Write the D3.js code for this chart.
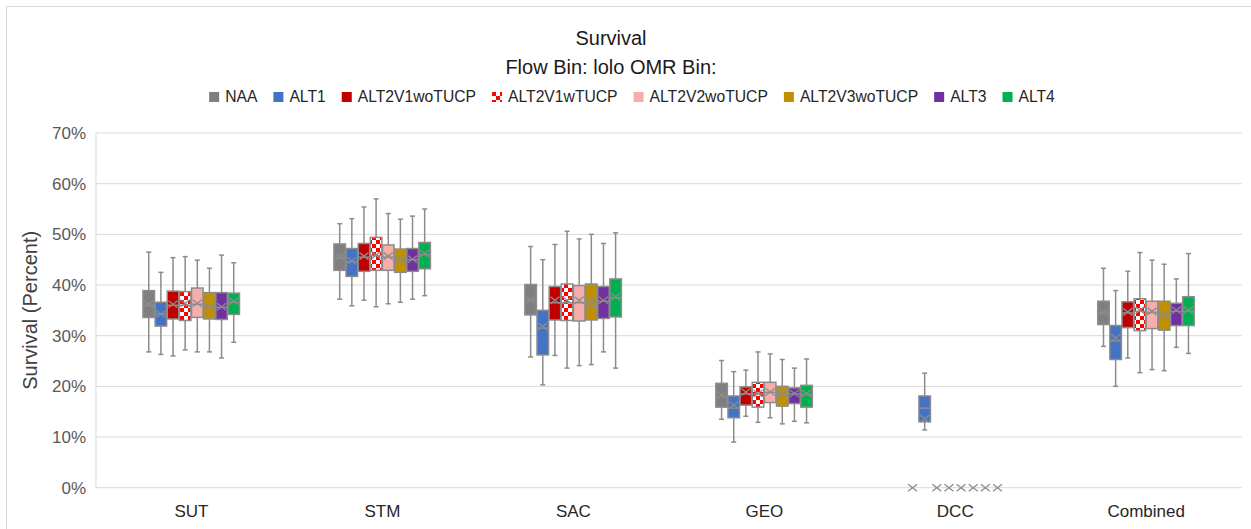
<!DOCTYPE html>
<html><head><meta charset="utf-8">
<script src="https://cdn.jsdelivr.net/npm/d3@7"></script>
<style>body{margin:0;background:#fff;} text{font-family:"Liberation Sans",Arial,sans-serif;}</style>
</head><body><svg id="c" width="1251" height="529"></svg>
<script>
const categories = ["SUT","STM","SAC","GEO","DCC","Combined"];
const seriesNames = ["NAA","ALT1","ALT2V1woTUCP","ALT2V1wTUCP","ALT2V2woTUCP","ALT2V3woTUCP","ALT3","ALT4"];
const seriesColors = ["#7f7f7f","#4472c4","#c00000","url(#checker)","#f7aeaa","#bf9000","#7030a0","#00b050"];
const yTicks = [0,10,20,30,40,50,60,70];
// per category: [min, q1, median, q3, max, mean] (percent)
const NAA = [[26.8,33.6,36.0,38.9,46.5,36.2],[37.2,42.9,45.4,48.1,52.1,45.6],[25.8,34.1,37.0,40.1,47.6,37.1],[13.5,15.9,18.0,20.6,25.1,18.3],[0,0,0,0,0,0],[27.9,32.2,34.5,36.8,43.3,34.6]];
const ALT1 = [[26.3,31.9,34.3,36.6,42.5,34.3],[35.9,41.7,44.6,47.2,53.1,44.8],[20.3,26.2,31.5,35.0,45.0,31.8],[9.0,13.8,15.7,18.1,22.9,16.3],[11.4,13.0,15.7,18.1,22.6,13.6],[20.0,25.3,29.0,32.0,38.9,29.6]];
const ALT2V1woTUCP = [[26.0,33.3,36.0,38.8,45.4,36.2],[37.0,42.7,45.5,48.2,55.4,45.7],[26.1,33.1,36.5,39.7,48.0,37.0],[14.1,16.3,18.5,19.9,23.2,18.9],[0,0,0,0,0,0],[25.6,31.6,34.5,36.7,42.7,34.7]];
const ALT2V1wTUCP = [[27.2,33.0,36.0,38.7,45.6,36.4],[35.7,42.9,45.8,49.4,57.0,45.9],[23.6,33.0,36.5,40.2,50.6,37.0],[12.9,15.9,18.5,20.8,26.8,18.6],[0,0,0,0,0,0],[22.7,31.0,34.8,37.3,46.4,35.0]];
const ALT2V2woTUCP = [[26.8,33.6,36.2,39.4,44.9,36.4],[36.3,42.9,45.5,47.9,54.1,45.7],[24.1,32.9,36.5,39.9,49.1,37.0],[13.8,16.8,18.8,20.8,26.4,18.9],[0,0,0,0,0,0],[23.3,31.4,34.6,36.8,44.9,34.8]];
const ALT2V3woTUCP = [[26.8,33.3,35.6,38.5,43.3,35.7],[36.6,42.5,45.0,47.1,53.0,45.1],[24.3,33.1,35.8,40.2,50.0,36.8],[12.6,16.1,18.4,20.0,25.3,18.6],[0,0,0,0,0,0],[23.1,31.1,34.0,36.8,44.1,34.1]];
const ALT3 = [[25.6,33.2,35.6,38.5,45.9,35.7],[37.2,42.7,45.0,47.2,53.6,45.1],[26.8,33.4,36.8,39.7,48.2,37.0],[13.1,16.6,18.5,19.7,23.6,18.6],[0,0,0,0,0,0],[27.7,32.0,34.8,36.4,41.2,35.0]];
const ALT4 = [[28.7,34.2,36.6,38.4,44.4,36.8],[37.9,43.2,46.0,48.4,55.0,46.2],[23.6,33.7,37.5,41.2,50.3,37.7],[12.8,15.9,18.4,20.2,25.4,18.6],[0,0,0,0,0,0],[26.5,32.0,34.8,37.7,46.2,35.0]];
const seriesData = [NAA,ALT1,ALT2V1woTUCP,ALT2V1wTUCP,ALT2V2woTUCP,ALT2V3woTUCP,ALT3,ALT4];

const svg = d3.select("#c");
const defs = svg.append("defs");
const pat = defs.append("pattern").attr("id","checker").attr("width",8).attr("height",8).attr("patternUnits","userSpaceOnUse");
pat.append("rect").attr("width",8).attr("height",8).attr("fill","#fff");
pat.append("rect").attr("width",4).attr("height",4).attr("fill","#ff0000");
pat.append("rect").attr("x",4).attr("y",4).attr("width",4).attr("height",4).attr("fill","#ff0000");

svg.append("rect").attr("x",6.5).attr("y",6.5).attr("width",1260).attr("height",540).attr("fill","#fff").attr("stroke","#d9d9d9");

const plotL = 96, plotR = 1241.7, plotT = 133, plotB = 487.7;
const x = d3.scaleBand().domain(categories).range([plotL, plotR]);
const xs = d3.scaleBand().domain(seriesNames).range([-48.5, 48]).paddingInner(0.05);
const y = d3.scaleLinear().domain([0,70]).range([plotB, plotT]);

// gridlines
svg.append("g").selectAll("line").data(yTicks).join("line")
  .attr("x1",plotL).attr("x2",plotR).attr("y1",d=>y(d)).attr("y2",d=>y(d))
  .attr("stroke","#d9d9d9").attr("stroke-width",1);
svg.append("line").attr("x1",plotL).attr("x2",plotL).attr("y1",plotT).attr("y2",plotB).attr("stroke","#d9d9d9");

// y tick labels
svg.append("g").selectAll("text").data(yTicks).join("text")
  .attr("x",86).attr("y",d=>y(d)).attr("dy","0.36em").attr("text-anchor","end")
  .attr("font-size",17).attr("fill","#595959").text(d=>d+"%");

// x labels
svg.append("g").selectAll("text").data(categories).join("text")
  .attr("x",d=>x(d)+x.bandwidth()/2).attr("y",517).attr("text-anchor","middle")
  .attr("font-size",17).attr("fill","#262626").text(d=>d);

// y title
svg.append("text").attr("transform","translate(37,"+((plotT+plotB)/2)+") rotate(-90)")
  .attr("text-anchor","middle").attr("font-size",20).attr("fill","#404040").text("Survival (Percent)");

// titles
svg.append("text").attr("x",611).attr("y",45).attr("text-anchor","middle").attr("font-size",20).attr("fill","#1a1a1a").text("Survival");
svg.append("text").attr("x",611).attr("y",74).attr("text-anchor","middle").attr("font-size",20).attr("fill","#1a1a1a").text("Flow Bin: lolo OMR Bin:");

// boxes
const edge = "#8c8c8c";
const bw = xs.bandwidth();
seriesNames.forEach((s,si)=>{
  const g = svg.append("g");
  const rows = seriesData[si].map((v,ci)=>({cat:categories[ci], v}));
  rows.forEach(r=>{
    const [mn,q1,md,q3,mx,mean] = r.v;
    const cx = x(r.cat)+x.bandwidth()/2 + xs(s) + bw/2;
    if (mx > mn) {
      g.append("line").attr("x1",cx).attr("x2",cx).attr("y1",y(mx)).attr("y2",y(q3)).attr("stroke",edge).attr("stroke-width",1.5);
      g.append("line").attr("x1",cx).attr("x2",cx).attr("y1",y(q1)).attr("y2",y(mn)).attr("stroke",edge).attr("stroke-width",1.5);
      g.append("line").attr("x1",cx-2.5).attr("x2",cx+2.5).attr("y1",y(mx)).attr("y2",y(mx)).attr("stroke",edge).attr("stroke-width",1.5);
      g.append("line").attr("x1",cx-2.5).attr("x2",cx+2.5).attr("y1",y(mn)).attr("y2",y(mn)).attr("stroke",edge).attr("stroke-width",1.5);
      g.append("rect").attr("x",cx-bw/2).attr("y",y(q3)).attr("width",bw).attr("height",y(q1)-y(q3))
        .attr("fill",seriesColors[si]).attr("stroke",edge).attr("stroke-width",1.5);
      g.append("line").attr("x1",cx-bw/2).attr("x2",cx+bw/2).attr("y1",y(md)).attr("y2",y(md)).attr("stroke",edge).attr("stroke-width",1.5);
    }
    const my = y(mean);
    g.append("path").attr("d",`M${cx-4.5},${my-3.5}L${cx+4.5},${my+3.5}M${cx-4.5},${my+3.5}L${cx+4.5},${my-3.5}`)
      .attr("stroke",edge).attr("stroke-width",1.3).attr("fill","none");
  });
});

// legend
const leg = svg.append("g");
const items = seriesNames.map((s,i)=>{
  const t = leg.append("text").attr("font-size",15.7).attr("fill","#262626").attr("y",102).text(s);
  return {s,i,t,w:t.node().getComputedTextLength()};
});
const sq = 10, gap1 = 6, gap2 = 16;
const total = d3.sum(items,d=>sq+gap1+d.w) + gap2*(items.length-1);
let lx = 632 - total/2;
items.forEach(d=>{
  leg.append("rect").attr("x",lx).attr("y",92).attr("width",sq).attr("height",sq).attr("fill",seriesColors[d.i]);
  d.t.attr("x",lx+sq+gap1);
  lx += sq+gap1+d.w+gap2;
});
</script></body></html>
